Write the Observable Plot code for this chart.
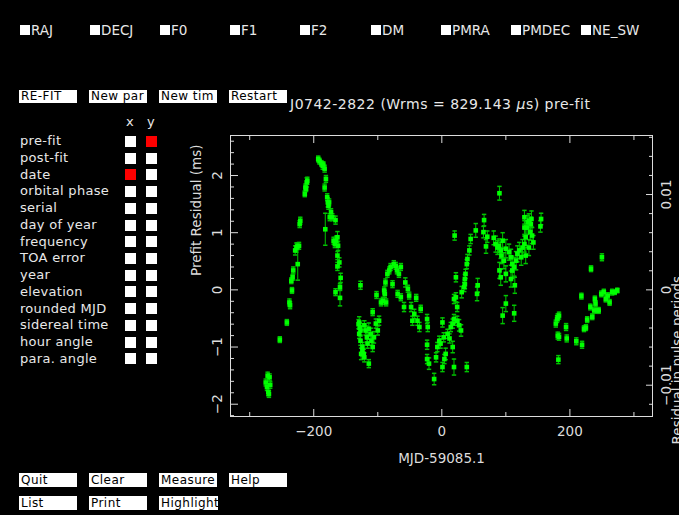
<!DOCTYPE html>
<html><head><meta charset="utf-8">
<script src="https://cdn.jsdelivr.net/npm/d3@7"></script>
<script src="https://cdn.jsdelivr.net/npm/@observablehq/plot@0.6"></script>
<style>
html,body{margin:0;padding:0;background:#000;}
#wrap{position:relative;width:679px;height:515px;overflow:hidden;background:#000;font-family:"DejaVu Sans",sans-serif;color:#e8e8e8;}
#wrap svg{position:absolute;left:0;top:0;}
.t{position:absolute;white-space:nowrap;}
.cb{position:absolute;background:#fff;}
.btn{position:absolute;width:58px;height:13px;background:#fff;color:#000;font-size:12px;letter-spacing:0.45px;line-height:13px;padding-left:2px;box-sizing:border-box;white-space:nowrap;overflow:visible;}
</style></head><body><div id="wrap"></div><script>
// ---- data ----
const PERIOD_MS = 166.762;
const mjdOffset = [-275,-273,-272,-271,-270,-269,-268,-253,-242,-238,-237,-235,-234,-233,-232,-229,-227,-226,-225,-223,-222,-221,-214,-213,-212,-211,-210,
 -193,-191,-188,-186,-185,-183,-183,-182,-181,-179,-178,-177,-176,-175,-173,-171,-169,-167,-166,-165,-163,-163,-163,-162,-160,-159,-159,-158,-166,-127,
 -130,-129,-129,-128,-127,-127,-126,-124,-124,-122,-121,-121,-119,-117,-116,-114,-114,-111,-110,-108,-108,-106,-103,-102,-100,-98,
 -95,-92,-90,-89,-88,-87,-85,-82,-80,-77,-75,-72,-70,-69,-67,-64,-64,-59,-57,-53,-51,-48,-46,-43,-40,-38,-35,-33,
 -23,-22,-23,-23,-20,-12,-9,-7,-4,-2,1,1,3,4,6,9,12,14,17,17,19,19,19,20,22,22,24,24,27,30,31,35,36,36,37,39,39,40,43,45,53,55,56,
 65,66,69,71,81,84,87,89,90,90,92,92,93,95,95,97,100,100,100,105,108,108,110,110,113,113,114,116,118,121,124,126,129,129,129,131,131,133,134,136,136,138,139,140,141,143,154,155,
 178,180,181,181,182,183,183,194,195,210,218,219,222,225,227,232,233,235,238,239,240,243,245,249,250,253,256,259,262,266,270,274];
const residualMs = [-1.62,-1.70,-1.50,-1.79,-1.82,-1.53,-1.66,-0.87,-0.57,-0.22,-0.27,0.16,-0.01,0.22,0.34,0.69,0.74,0.76,0.45,0.77,1.15,1.21,1.68,1.79,1.77,1.88,1.91,
 2.29,2.25,2.21,2.17,2.19,2.12,1.79,1.06,1.94,1.62,1.53,1.47,1.53,1.27,1.36,1.27,0.86,0.80,1.22,0.86,0.92,0.60,0.41,0.77,0.48,0.05,-0.14,0.21,-0.04,0.08,
 -0.60,-0.57,-0.77,-0.66,-0.89,-0.71,-1.12,-1.00,-1.06,-1.12,-0.62,-1.18,-0.71,-0.83,-0.94,-0.68,-1.29,-0.77,-0.89,-1.00,-0.39,-0.83,-0.59,-0.09,-0.71,-0.54,
 -0.22,-0.19,-0.01,-0.07,0.13,-0.22,0.28,0.34,0.40,0.10,0.45,0.42,0.34,-0.07,0.28,0.40,-0.13,-0.30,0.13,0.02,-0.10,-0.30,-0.54,-0.42,-0.14,-0.54,-0.65,-0.33,
 -0.51,-0.65,-0.96,-1.21,-1.29,-1.56,-1.18,-1.00,-0.89,-0.94,-0.57,-1.35,-0.83,-1.21,-1.12,-0.77,-0.85,-0.65,-0.59,-1.00,-1.35,-0.51,-0.16,0.95,0.22,-0.13,-0.30,-0.54,-0.62,-0.71,-0.04,0.05,0.19,0.10,0.28,0.45,-1.35,0.54,0.69,0.89,1.04,-0.07,0.08,
 1.01,1.22,0.76,0.93,0.91,0.80,0.74,0.77,1.69,0.34,0.69,0.22,0.60,0.86,-0.45,0.51,0.72,0.28,-0.24,0.66,0.57,0.19,0.45,0.34,0.40,-0.41,0.08,0.51,0.63,0.69,0.57,0.74,1.27,1.09,0.80,0.60,0.92,1.09,1.18,1.21,0.74,1.01,1.15,1.24,0.95,0.83,1.11,1.24,
 -0.59,-0.51,-0.80,-0.48,-1.22,-0.45,-0.82,-0.65,-0.85,-0.90,-0.11,-0.96,-0.68,-0.66,-0.52,-0.30,0.37,-0.47,-0.36,-0.16,-0.24,-0.36,-0.36,-0.07,0.57,-0.04,-0.16,-0.10,-0.22,-0.04,-0.04,-0.01];
const errorMs = [0.06,0.06,0.06,0.06,0.06,0.06,0.06,0.05,0.05,0.06,0.06,0.05,0.05,0.05,0.06,0.08,0.08,0.06,0.28,0.06,0.06,0.06,0.05,0.06,0.05,0.08,0.06,
 0.05,0.05,0.05,0.06,0.05,0.06,0.06,0.28,0.06,0.06,0.08,0.06,0.06,0.06,0.06,0.06,0.06,0.06,0.07,0.08,0.10,0.07,0.07,0.08,0.08,0.06,0.14,0.08,0.06,0.07,
 0.08,0.10,0.08,0.08,0.08,0.08,0.10,0.08,0.10,0.08,0.08,0.08,0.08,0.08,0.08,0.10,0.07,0.10,0.08,0.08,0.06,0.10,0.08,0.06,0.08,0.08,
 0.06,0.06,0.06,0.06,0.06,0.06,0.06,0.06,0.06,0.06,0.06,0.06,0.06,0.06,0.06,0.06,0.06,0.08,0.08,0.06,0.06,0.08,0.08,0.08,0.06,0.08,0.08,0.06,
 0.08,0.08,0.08,0.08,0.10,0.10,0.08,0.08,0.08,0.08,0.08,0.08,0.08,0.08,0.10,0.08,0.08,0.08,0.08,0.10,0.14,0.08,0.08,0.08,0.08,0.08,0.08,0.08,0.10,0.10,0.10,0.08,0.08,0.08,0.08,0.08,0.08,0.08,0.08,0.08,0.12,0.12,0.12,
 0.10,0.10,0.12,0.10,0.12,0.14,0.12,0.12,0.12,0.14,0.14,0.14,0.14,0.14,0.14,0.14,0.16,0.14,0.14,0.14,0.14,0.14,0.14,0.14,0.16,0.14,0.14,0.16,0.14,0.14,0.14,0.14,0.12,0.12,0.14,0.14,0.14,0.12,0.12,0.12,0.14,0.14,0.12,0.14,0.14,0.12,0.10,0.10,
 0.06,0.06,0.06,0.06,0.07,0.06,0.06,0.06,0.06,0.06,0.05,0.06,0.05,0.05,0.05,0.05,0.05,0.05,0.05,0.05,0.05,0.05,0.05,0.05,0.06,0.05,0.05,0.05,0.05,0.05,0.04,0.04];

const xTicksMajor = [-200, 0, 200];
const xTicksMinor = [-300, -100, 100, 300];
const yTicksMajor = [-2, -1, 0, 1, 2];
const yTicksMinor = [-2.2,-1.8,-1.6,-1.4,-1.2,-0.8,-0.6,-0.4,-0.2,0.2,0.4,0.6,0.8,1.2,1.4,1.6,1.8,2.2,2.4,2.6];
const periodTicksMajor = [-0.01, 0, 0.01];
const periodTicksMinor = [-0.012,-0.008,-0.006,-0.004,-0.002,0.002,0.004,0.006,0.008,0.012,0.014,0.016];

const paramNames = ["RAJ","DECJ","F0","F1","F2","DM","PMRA","PMDEC","NE_SW"];
const axisChoices = ["pre-fit","post-fit","date","orbital phase","serial","day of year","frequency","TOA error","year","elevation","rounded MJD","sidereal time","hour angle","para. angle"];
const selectedX = "date", selectedY = "pre-fit";
const topButtons = ["RE-FIT","New par","New tim","Restart"];
const bottomButtons1 = ["Quit","Clear","Measure","Help"];
const bottomButtons2 = ["List","Print","Highlight"];
const titleText = "J0742-2822 (Wrms = 829.143 <i>μ</i>s) pre-fit";
const xLabel = "MJD-59085.1";
const yLabel = "Prefit Residual (ms)";
const y2Label = "Residual in pulse periods";

// ---- chart ----
const data = mjdOffset.map((x, i) => ({x, y: residualMs[i], e: errorMs[i]}));
const fg = "#dcdcdc";
const green = "#00ff00";
const barGreen = "#00c400";
const cap = {draw(ctx) { ctx.moveTo(-2.2, 0); ctx.lineTo(2.2, 0); }};
const toMs = p => p * PERIOD_MS;
const fmtP = v => { const p = Math.round(v / PERIOD_MS * 1000) / 1000; return p === 0 ? "0" : (p < 0 ? "\u2212" : "") + Math.abs(p); };
const fmtN = v => v < 0 ? "\u2212" + Math.abs(v) : String(v);
const blank = () => "";

const chart = Plot.plot({
  width: 679, height: 515,
  marginLeft: 230, marginRight: 27, marginTop: 135, marginBottom: 99,
  style: {background: "#000", color: fg, fontFamily: "DejaVu Sans, sans-serif", fontSize: "13.5px", overflow: "visible"},
  x: {domain: [-330, 329], axis: null},
  y: {domain: [-2.215, 2.70], axis: null},
  marks: [
    Plot.ruleX(data, {x: "x", y1: d => d.y - d.e, y2: d => d.y + d.e, stroke: barGreen, strokeWidth: 1}),
    Plot.dot(data, {x: "x", y: d => d.y + d.e, symbol: cap, fill: "none", stroke: barGreen, r: 2}),
    Plot.dot(data, {x: "x", y: d => d.y - d.e, symbol: cap, fill: "none", stroke: barGreen, r: 2}),
    Plot.dot(data, {x: "x", y: "y", symbol: "square", fill: green, stroke: "none", r: 2.6}),
    Plot.frame({stroke: fg}),
    // x ticks (bottom and top, inward)
    Plot.axisX({anchor: "bottom", ticks: xTicksMajor, tickSize: -7, tickFormat: blank, label: null, stroke: fg}),
    Plot.axisX({anchor: "bottom", ticks: xTicksMinor, tickSize: -4, tickFormat: blank, label: null, stroke: fg}),
    Plot.axisX({anchor: "top", ticks: xTicksMajor, tickSize: -7, tickFormat: blank, label: null, stroke: fg}),
    Plot.axisX({anchor: "top", ticks: xTicksMinor, tickSize: -4, tickFormat: blank, label: null, stroke: fg}),
    Plot.axisX({anchor: "bottom", ticks: xTicksMajor, tickSize: 0, tickPadding: 10, tickFormat: fmtN, label: null, fill: fg, fontSize: 13.5}),
    // left y ticks
    Plot.axisY({anchor: "left", ticks: yTicksMajor, tickSize: -8, tickFormat: blank, label: null, stroke: fg}),
    Plot.axisY({anchor: "left", ticks: yTicksMinor, tickSize: -4, tickFormat: blank, label: null, stroke: fg}),
    Plot.axisY({anchor: "left", ticks: yTicksMajor, tickSize: 0, tickPadding: 13, rotate: -90, textAnchor: "middle", lineAnchor: "middle", tickFormat: fmtN, label: null, fill: fg, fontSize: 13.5}),
    // right axis: pulse periods
    Plot.axisY({anchor: "right", ticks: periodTicksMajor.map(toMs), tickSize: -7, tickFormat: blank, label: null, stroke: fg}),
    Plot.axisY({anchor: "right", ticks: periodTicksMinor.map(toMs), tickSize: -4, tickFormat: blank, label: null, stroke: fg}),
    Plot.axisY({anchor: "right", ticks: periodTicksMajor.map(toMs), tickSize: 0, tickPadding: 14, rotate: -90, textAnchor: "middle", lineAnchor: "middle", tickFormat: fmtP, label: null, fill: fg, fontSize: 13.5}),
    // axis titles
    Plot.text([xLabel], {text: d => d, frameAnchor: "bottom", dy: 42, lineAnchor: "middle", fill: fg, fontSize: 13.5}),
    Plot.text([yLabel], {text: d => d, frameAnchor: "left", dx: -34, rotate: -90, lineAnchor: "middle", fill: fg, fontSize: 13.5}),
    Plot.text([y2Label], {text: d => d, frameAnchor: "right", dx: 25, rotate: -90, lineAnchor: "middle", fill: fg, fontSize: 13.5})
  ]
});

const wrap = document.getElementById("wrap");
wrap.appendChild(chart);

function el(cls, css, html) {
  const d = document.createElement("div");
  d.className = cls;
  Object.assign(d.style, css);
  if (html != null) d.innerHTML = html;
  wrap.appendChild(d);
  return d;
}

// top parameter checkboxes
paramNames.forEach((name, i) => {
  const x = Math.round(20 + i * 70.1);
  el("cb", {left: x + "px", top: "25px", width: "10px", height: "10px"});
  el("t", {left: (x + 11) + "px", top: "25px", lineHeight: "10px", fontSize: "13.5px"}, name);
});

// top buttons
topButtons.forEach((b, i) => el("btn", {left: (19 + i * 70) + "px", top: "90px"}, b));
el("t", {left: "290px", top: "97px", lineHeight: "14px", fontSize: "14px", letterSpacing: "0.5px"}, titleText);

// axis chooser panel
el("t", {left: "126px", top: "117px", lineHeight: "10px", fontSize: "13px"}, "x");
el("t", {left: "147px", top: "117px", lineHeight: "10px", fontSize: "13px"}, "y");
axisChoices.forEach((name, i) => {
  const top = 136 + i * 16.72;
  el("t", {left: "20px", top: (top - 0.7) + "px", lineHeight: "11px", fontSize: "13px", letterSpacing: "0.3px"}, name);
  el("cb", {left: "125px", top: top + "px", width: "11px", height: "11px", background: name === selectedX ? "#ff0000" : "#fff"});
  el("cb", {left: "146px", top: top + "px", width: "11px", height: "11px", background: name === selectedY ? "#ff0000" : "#fff"});
});

// bottom buttons
bottomButtons1.forEach((b, i) => el("btn", {left: (19 + i * 70) + "px", top: "473px", height: "14px", lineHeight: "14px"}, b));
bottomButtons2.forEach((b, i) => el("btn", {left: (19 + i * 70) + "px", top: "496px", height: "14px", lineHeight: "14px", width: b === "Highlight" ? "59px" : "58px"}, b));
</script></body></html>
